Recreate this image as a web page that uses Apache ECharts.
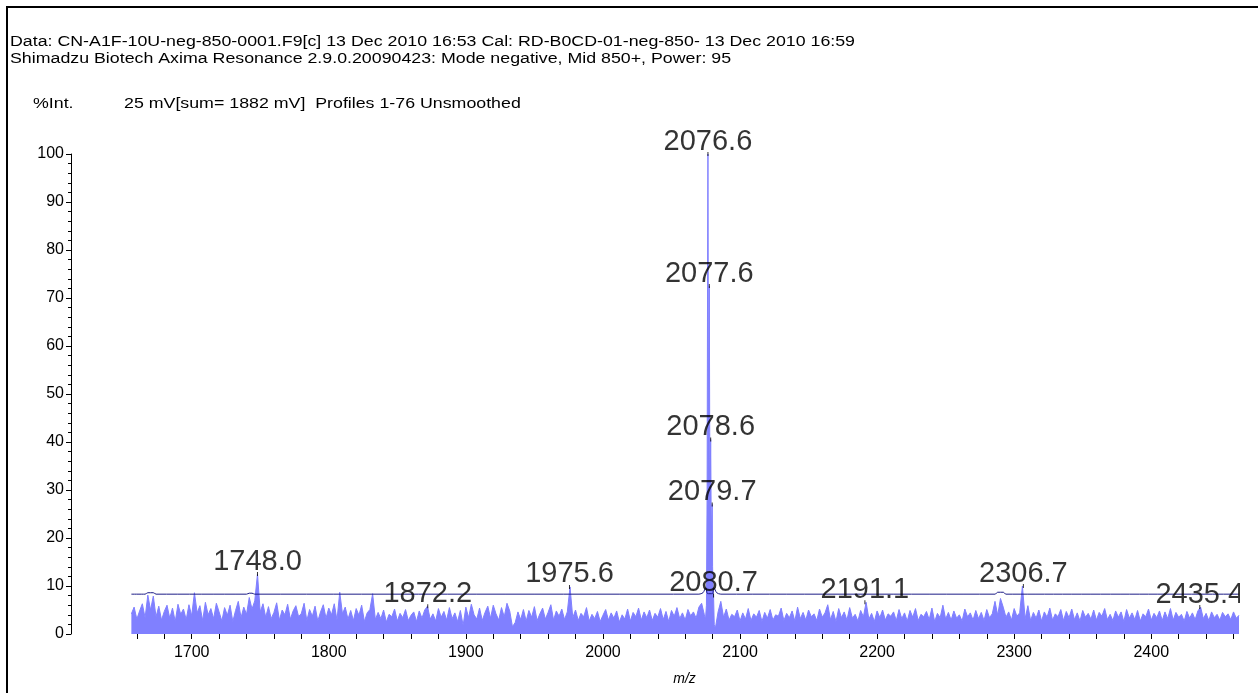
<!DOCTYPE html>
<html>
<head>
<meta charset="utf-8">
<script src="https://cdn.jsdelivr.net/npm/echarts@6/dist/echarts.min.js"></script>
<style>
html, body { margin: 0; padding: 0; background: #fff; }
#chart { width: 1258px; height: 693px; }
</style>
</head>
<body>
<div id="chart"></div>
<script>
// 噪声谱：从 1656 开始，每 2 个 m/z 取一个值（%Int.）
var noiseStart = 1656;
var noiseStep = 2;
var noiseValues = [
    4.2, 5.6, 3.1, 4.8, 6.3, 3.4, 8.1, 5.0, 7.9, 3.6,
    5.8, 2.9, 4.7, 6.0, 3.3, 5.4, 2.6, 6.2, 4.1, 5.2,
    3.0, 6.1, 3.8, 8.6, 4.4, 5.9, 2.8, 6.6, 4.0, 5.3,
    3.2, 6.4, 4.6, 2.7, 5.5, 3.9, 6.0, 2.6, 4.9, 6.8,
    3.4, 5.6, 4.1, 7.6, 5.2, 6.9, 12.5, 4.6, 6.3, 3.5,
    5.7, 3.2, 4.5, 6.5, 2.9, 5.0, 4.0, 6.2, 3.1, 4.8,
    5.9, 3.6, 4.3, 6.4, 2.8, 5.1, 3.7, 5.8, 2.7, 4.6,
    6.1, 3.3, 5.4, 4.0, 6.3, 2.9, 8.7, 4.2, 5.6, 3.1,
    4.9, 2.8, 5.3, 3.9, 6.0, 2.6, 4.4, 5.1, 8.4, 3.0,
    4.5, 3.2, 5.0, 2.5, 4.1, 3.6, 5.2, 2.7, 4.3, 3.4,
    5.1, 2.8, 3.9, 4.6, 2.6, 4.8, 3.3, 5.0, 5.8, 3.1,
    4.2, 2.7, 5.3, 3.5, 4.7, 2.9, 5.5, 3.2, 4.4, 2.6,
    4.9, 1.8, 5.6, 3.4, 6.2, 4.0, 3.1, 5.4, 2.8, 4.5,
    5.8, 3.3, 6.0, 4.2, 2.9, 5.5, 3.6, 6.4, 4.8, 1.5,
    2.4, 4.6, 3.0, 5.1, 2.7, 4.9, 3.5, 5.7, 2.8, 4.2,
    5.4, 3.1, 4.5, 6.1, 2.9, 4.8, 3.7, 5.2, 3.0, 4.6,
    9.8, 3.4, 5.0, 2.8, 4.3, 3.6, 5.5, 2.7, 4.1, 3.2,
    4.7, 2.6, 3.9, 5.1, 2.9, 4.4, 3.3, 4.8, 2.5, 4.0,
    3.1, 5.2, 2.7, 4.5, 3.6, 5.4, 2.9, 4.6, 3.4, 5.0,
    2.8, 4.3, 3.5, 5.3, 3.0, 4.7, 2.6, 4.9, 3.7, 5.5,
    3.2, 4.4, 2.9, 5.1, 3.8, 4.6, 3.3, 5.6, 6.4, 4.0,
    0, 0, 0, 1.2, 4.6, 6.8, 3.5, 5.2, 2.9, 4.1,
    3.6, 5.0, 2.7, 4.4, 3.1, 5.3, 2.8, 4.2, 3.5, 4.9,
    2.6, 4.5, 3.3, 5.1, 2.9, 4.0, 3.7, 5.4, 2.8, 4.3,
    3.4, 4.8, 2.7, 5.6, 3.2, 4.5, 2.9, 5.0, 3.6, 4.2,
    2.8, 5.2, 3.5, 4.4, 6.1, 3.0, 4.7, 2.6, 5.3, 3.4,
    4.6, 2.9, 5.5, 3.3, 4.1, 2.7, 4.9, 3.6, 6.6, 3.1,
    4.3, 2.6, 4.8, 3.4, 5.0, 2.9, 4.2, 3.7, 4.6, 2.8,
    5.1, 3.2, 4.4, 2.7, 4.9, 3.5, 5.3, 2.8, 4.1, 3.6,
    4.7, 3.0, 5.4, 2.6, 4.3, 3.4, 6.0, 3.1, 4.5, 2.9,
    4.8, 3.3, 4.0, 2.7, 5.2, 3.6, 4.4, 2.9, 4.9, 3.2,
    4.5, 2.8, 5.1, 3.4, 4.2, 6.8, 3.9, 7.4, 5.6, 3.5,
    4.6, 2.9, 5.3, 3.7, 4.4, 10.0, 3.2, 5.9, 2.8, 4.5,
    3.3, 5.0, 2.7, 4.6, 3.5, 5.4, 2.9, 4.2, 3.6, 5.1,
    2.8, 4.7, 3.4, 5.2, 3.0, 4.4, 2.7, 4.9, 3.5, 4.3,
    3.1, 5.0, 2.9, 4.5, 3.7, 5.3, 3.0, 4.1, 2.8, 4.8,
    3.5, 4.6, 2.6, 5.1, 3.3, 4.4, 3.0, 4.9, 2.7, 4.2,
    3.6, 5.2, 2.9, 4.3, 3.4, 4.8, 2.8, 4.6, 3.2, 5.3,
    2.9, 4.5, 3.5, 4.1, 2.7, 4.7, 3.3, 4.4, 3.0, 4.8,
    5.6, 3.2, 4.3, 2.8, 4.6, 3.4, 4.1, 2.9, 4.5, 3.6,
    4.2, 3.0, 4.6, 3.3, 3.9
];
// 主峰同位素簇
var clusterMz = [2074.8, 2075.5, 2076.0, 2076.3, 2076.6, 2076.9, 2077.2, 2077.6, 2077.9, 2078.2,
    2078.6, 2078.9, 2079.3, 2079.7, 2080.0, 2080.4, 2080.7, 2081.2];
var clusterInt = [3, 6, 30, 70, 100, 60, 45, 72.5, 42, 30,
    40.5, 27, 20, 27, 14, 9, 8, 2];
// 标注峰
var peakMz = [1748.0, 1872.2, 1975.6, 2076.6, 2077.6, 2078.6, 2079.7, 2080.7, 2191.1, 2306.7, 2435.4];
var peakInt = [12.5, 5.8, 9.8, 100, 72.5, 40.5, 27, 8, 6.6, 10, 5.6];
// 阈值线
var threshMz = [1656, 1666, 1668, 1672, 1674, 1740, 1742, 1744, 1746, 2070, 2073, 2075, 2076.4, 2079.8, 2081, 2083, 2086,
    2286, 2288, 2292, 2294, 2464];
var threshInt = [8.3, 8.3, 8.6, 8.6, 8.3, 8.3, 8.5, 8.5, 8.3, 8.3, 8.6, 9.6, 8.4, 8.4, 9.6, 8.6, 8.3,
    8.3, 8.7, 8.7, 8.3, 8.3];
// 坐标轴刻度
var xLabels = [1700, 1800, 1900, 2000, 2100, 2200, 2300, 2400];
var xTicks = [1660, 1680, 1700, 1720, 1740, 1760, 1780, 1800, 1820, 1840, 1860, 1880, 1900, 1920, 1940, 1960,
    1980, 2000, 2020, 2040, 2060, 2080, 2100, 2120, 2140, 2160, 2180, 2200, 2220, 2240, 2260, 2280, 2300,
    2320, 2340, 2360, 2380, 2400, 2420, 2440, 2460];

var spectrum = [];
noiseValues.forEach(function (v, i) {
    var mz = noiseStart + i * noiseStep;
    if (mz > 2075 && mz < 2081.5) {
        return;
    }
    spectrum.push([mz, v]);
});
clusterMz.forEach(function (mz, i) {
    spectrum.push([mz, clusterInt[i]]);
});
spectrum.sort(function (a, b) {
    return a[0] - b[0];
});
var thresh = threshMz.map(function (mz, i) {
    return [mz, threshInt[i]];
});
var peaks = peakMz.map(function (mz, i) {
    return [mz, peakInt[i]];
});

var font = '"Liberation Sans", Arial, sans-serif';
// 页眉文字（原图文字横向偏宽）
function headText(x, y, text) {
    return {
        type: 'text',
        z: 101,
        x: x,
        y: y,
        scaleX: 1.27,
        style: {
            text: text,
            font: '14px ' + font,
            fill: '#000',
            verticalAlign: 'middle'
        }
    };
}
var chart = echarts.init(document.getElementById('chart'));
chart.setOption({
    animation: false,
    backgroundColor: '#fff',
    grid: {
        left: 130,
        right: 19,
        top: 154,
        bottom: 59
    },
    xAxis: {
        type: 'value',
        min: 1655,
        max: 2464,
        name: 'm/z',
        nameLocation: 'middle',
        nameGap: 38,
        nameTextStyle: {
            fontFamily: font,
            fontSize: 14,
            fontStyle: 'italic',
            color: '#000'
        },
        axisLine: {show: false},
        axisTick: {
            show: true,
            customValues: xTicks,
            length: 5,
            lineStyle: {color: '#000'}
        },
        axisLabel: {
            customValues: xLabels,
            fontFamily: font,
            fontSize: 16,
            color: '#000',
            margin: 11,
            formatter: function (v) {
                return String(v);
            }
        },
        splitLine: {show: false}
    },
    yAxis: {
        type: 'value',
        min: 0,
        max: 100,
        interval: 10,
        offset: 59,
        axisLine: {show: true, lineStyle: {color: '#000', width: 1}},
        axisTick: {show: true, length: 5, lineStyle: {color: '#000'}},
        minorTick: {show: true, splitNumber: 5, length: 3, lineStyle: {color: '#000'}},
        axisLabel: {
            fontFamily: font,
            fontSize: 16,
            color: '#000',
            margin: 7
        },
        splitLine: {show: false}
    },
    series: [
        {
            type: 'line',
            data: spectrum,
            symbol: 'none',
            lineStyle: {color: '#8080ff', width: 1},
            areaStyle: {color: '#8080ff', opacity: 1},
            z: 2
        },
        {
            type: 'line',
            data: thresh,
            symbol: 'none',
            smooth: 0.3,
            lineStyle: {color: '#1c1c86', width: 1},
            z: 3
        },
        {
            type: 'scatter',
            data: peaks,
            symbol: 'rect',
            symbolSize: [1, 4],
            itemStyle: {color: '#000'},
            label: {
                show: true,
                position: 'top',
                distance: 0,
                offset: [0, 4],
                fontFamily: font,
                fontSize: 29,
                color: '#000',
                formatter: function (p) {
                    return p.value[0].toFixed(1);
                }
            },
            z: 4
        }
    ],
    graphic: [
        {
            type: 'rect',
            z: 100,
            shape: {x: 1240, y: 100, width: 30, height: 540},
            style: {fill: '#fff'}
        },
        {
            type: 'rect',
            z: 101,
            shape: {x: 7, y: 7, width: 1400, height: 900},
            style: {fill: 'none', stroke: '#000', lineWidth: 2}
        },
        headText(10, 42, 'Data: CN-A1F-10U-neg-850-0001.F9[c] 13 Dec 2010 16:53 Cal: RD-B0CD-01-neg-850- 13 Dec 2010 16:59'),
        headText(10, 59, 'Shimadzu Biotech Axima Resonance 2.9.0.20090423: Mode negative, Mid 850+, Power: 95'),
        headText(33, 104, '%Int.'),
        headText(124, 104, '25 mV[sum= 1882 mV]  Profiles 1-76 Unsmoothed')
    ]
});
</script>
</body>
</html>
